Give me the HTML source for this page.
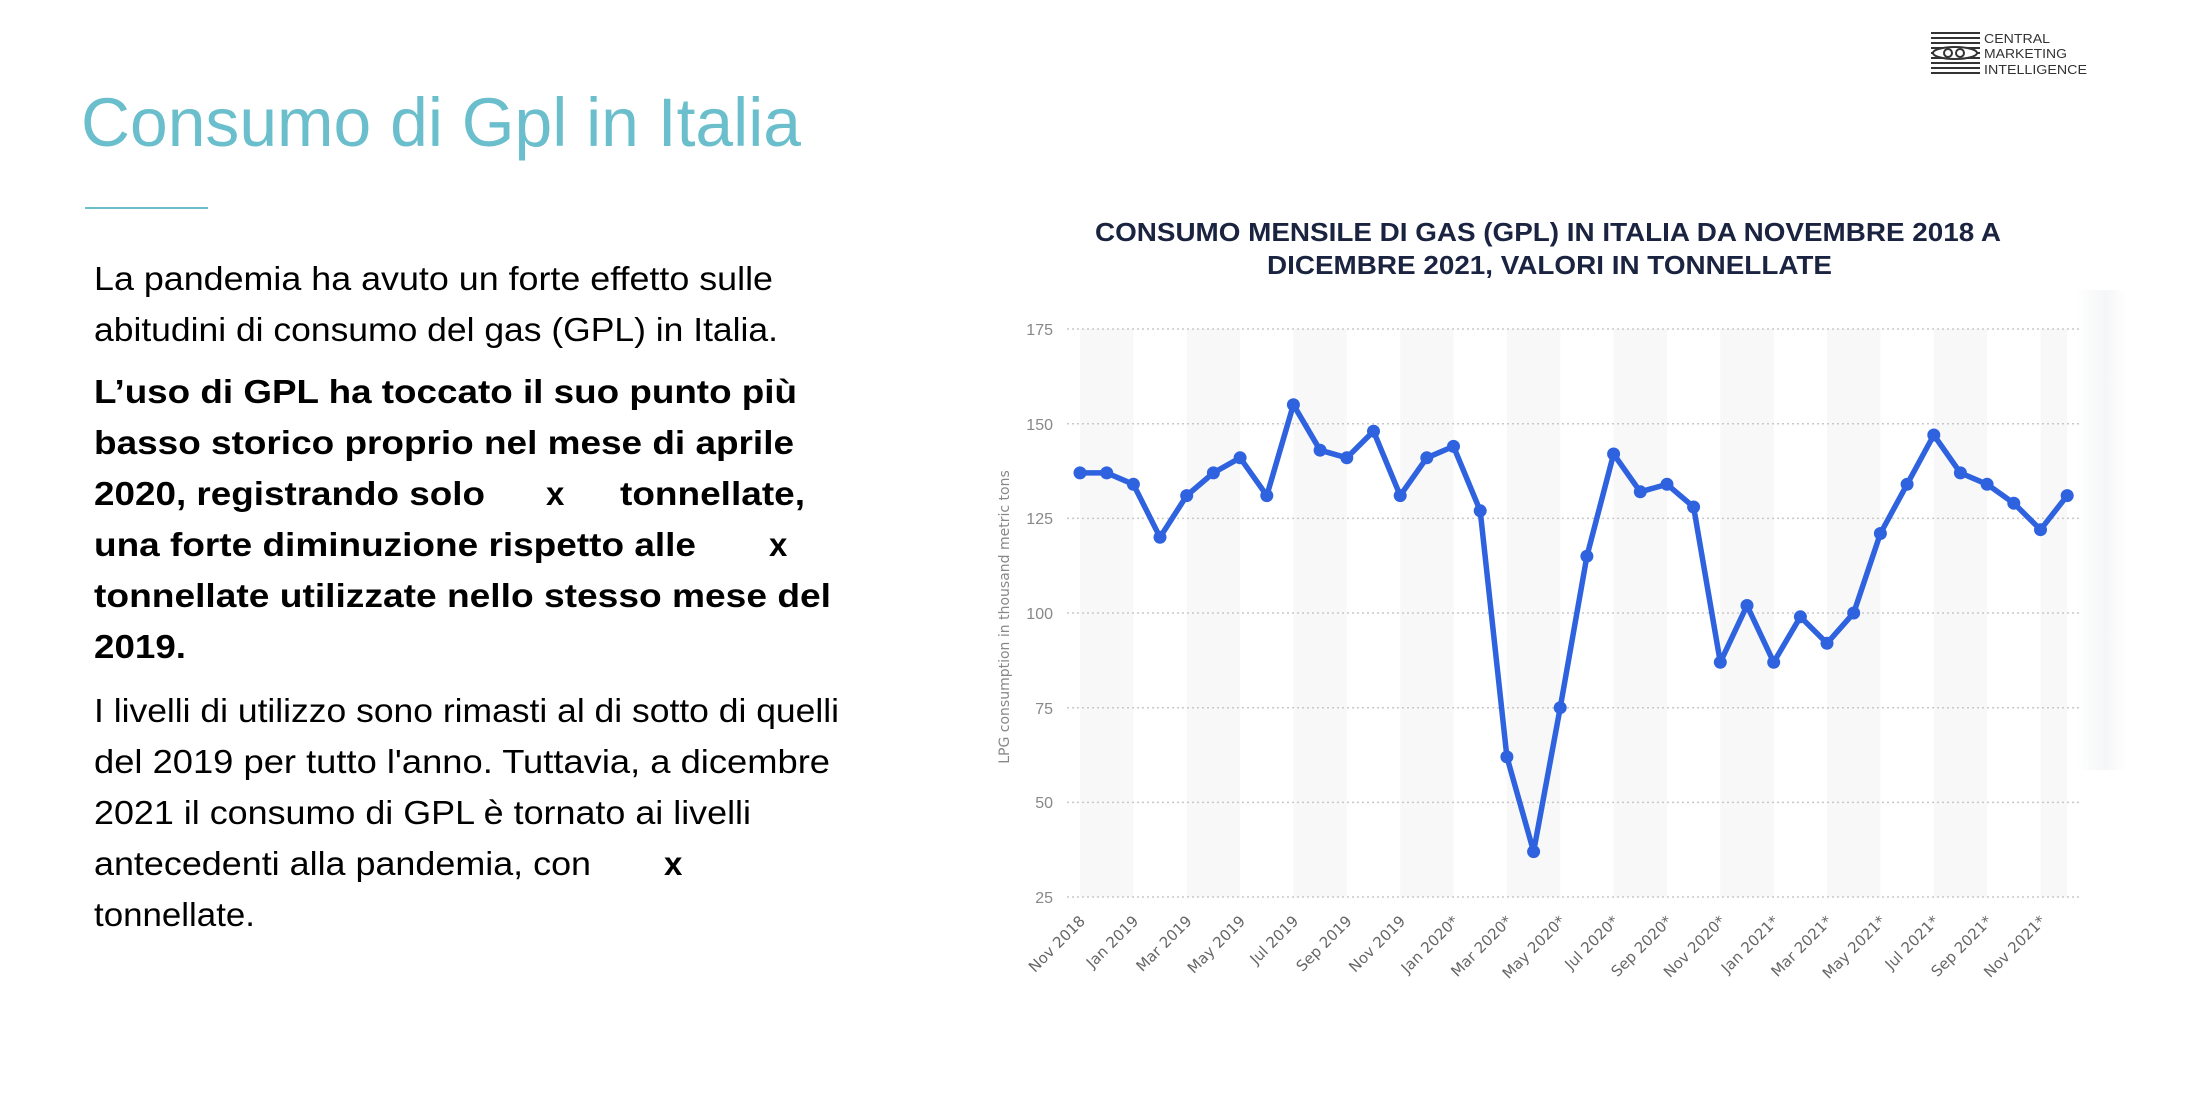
<!DOCTYPE html>
<html><head><meta charset="utf-8"><style>
html,body{margin:0;padding:0;background:#fff;}
svg{display:block;}
.p{font-family:"Liberation Sans",sans-serif;font-size:33px;fill:#000;}
.b{font-weight:bold;}
.yl{font-family:"Liberation Sans",sans-serif;font-size:16px;fill:#888;text-anchor:end;}
.xl{font-family:"DejaVu Sans","Liberation Sans",sans-serif;font-size:15px;fill:#666;text-anchor:end;}
</style></head><body>
<svg width="2198" height="1118" viewBox="0 0 2198 1118" xmlns="http://www.w3.org/2000/svg">
<defs>
<marker id="dot" markerUnits="userSpaceOnUse" markerWidth="16" markerHeight="16" refX="8" refY="8"><circle cx="8" cy="8" r="6.5" fill="#2e62de"/></marker>
<linearGradient id="sh" x1="0" x2="1"><stop offset="0" stop-color="#f5f6f8" stop-opacity="0"/><stop offset="0.6" stop-color="#f5f6f8"/><stop offset="1" stop-color="#fff"/></linearGradient>
</defs>
<g stroke="#333" stroke-width="2">
<line x1="1931" y1="33" x2="1980" y2="33"/><line x1="1931" y1="38" x2="1980" y2="38"/><line x1="1931" y1="43" x2="1980" y2="43"/>
<line x1="1931" y1="48" x2="1980" y2="48"/><line x1="1931" y1="53" x2="1980" y2="53"/><line x1="1931" y1="58" x2="1980" y2="58"/>
<line x1="1931" y1="63" x2="1980" y2="63"/><line x1="1931" y1="68" x2="1980" y2="68"/><line x1="1931" y1="73" x2="1980" y2="73"/>
</g>
<ellipse cx="1955" cy="53" rx="22" ry="6" fill="#fff" stroke="#333" stroke-width="2"/>
<circle cx="1948" cy="53" r="4" fill="#fff" stroke="#333" stroke-width="2"/><circle cx="1960" cy="53" r="4" fill="#fff" stroke="#333" stroke-width="2"/>
<g font-family="Liberation Sans,sans-serif" font-size="13" fill="#333">
<text x="1984" y="43" textLength="66" lengthAdjust="spacingAndGlyphs">CENTRAL</text>
<text x="1984" y="58" textLength="83" lengthAdjust="spacingAndGlyphs">MARKETING</text>
<text x="1984" y="74" textLength="103" lengthAdjust="spacingAndGlyphs">INTELLIGENCE</text>
</g>
<text x="81" y="146" font-family="Liberation Sans,sans-serif" font-size="69" fill="#6bbfcc" textLength="720" lengthAdjust="spacingAndGlyphs">Consumo di Gpl in Italia</text>
<line x1="85" y1="208" x2="208" y2="208" stroke="#6bbfcc" stroke-width="2"/>
<text class="p" x="94" y="290" textLength="679" lengthAdjust="spacingAndGlyphs">La pandemia ha avuto un forte effetto sulle</text>
<text class="p" x="94" y="341" textLength="684" lengthAdjust="spacingAndGlyphs">abitudini di consumo del gas (GPL) in Italia.</text>
<text class="p b" x="94" y="403" textLength="703" lengthAdjust="spacingAndGlyphs">L’uso di GPL ha toccato il suo punto più</text>
<text class="p b" x="94" y="454" textLength="700" lengthAdjust="spacingAndGlyphs">basso storico proprio nel mese di aprile</text>
<text class="p b" x="94" y="505" textLength="391" lengthAdjust="spacingAndGlyphs">2020, registrando solo</text>
<text class="p b" x="546" y="505">x</text>
<text class="p b" x="620" y="505" textLength="185" lengthAdjust="spacingAndGlyphs">tonnellate,</text>
<text class="p b" x="94" y="556" textLength="602" lengthAdjust="spacingAndGlyphs">una forte diminuzione rispetto alle</text>
<text class="p b" x="769" y="556">x</text>
<text class="p b" x="94" y="607" textLength="737" lengthAdjust="spacingAndGlyphs">tonnellate utilizzate nello stesso mese del</text>
<text class="p b" x="94" y="658" textLength="92" lengthAdjust="spacingAndGlyphs">2019.</text>
<text class="p" x="94" y="722" textLength="745" lengthAdjust="spacingAndGlyphs">I livelli di utilizzo sono rimasti al di sotto di quelli</text>
<text class="p" x="94" y="773" textLength="736" lengthAdjust="spacingAndGlyphs">del 2019 per tutto l'anno. Tuttavia, a dicembre</text>
<text class="p" x="94" y="824" textLength="657" lengthAdjust="spacingAndGlyphs">2021 il consumo di GPL è tornato ai livelli</text>
<text class="p" x="94" y="875" textLength="497" lengthAdjust="spacingAndGlyphs">antecedenti alla pandemia, con</text>
<text class="p b" x="664" y="875">x</text>
<text class="p" x="94" y="926" textLength="161" lengthAdjust="spacingAndGlyphs">tonnellate.</text>
<g font-family="Liberation Sans,sans-serif" font-weight="bold" font-size="26" fill="#1a2340">
<text x="1095" y="241" textLength="906" lengthAdjust="spacingAndGlyphs">CONSUMO MENSILE DI GAS (GPL) IN ITALIA DA NOVEMBRE 2018 A</text>
<text x="1267" y="274" textLength="565" lengthAdjust="spacingAndGlyphs">DICEMBRE 2021, VALORI IN TONNELLATE</text>
</g>
<rect x="2076" y="290" width="50" height="480" fill="url(#sh)"/>
<g fill="#f8f8f8">
<rect x="1080" y="329" width="53.4" height="568"/><rect x="1186.7" y="329" width="53.4" height="568"/>
<rect x="1293.4" y="329" width="53.4" height="568"/><rect x="1400.2" y="329" width="53.4" height="568"/>
<rect x="1506.9" y="329" width="53.4" height="568"/><rect x="1613.6" y="329" width="53.4" height="568"/>
<rect x="1720.3" y="329" width="53.4" height="568"/><rect x="1827" y="329" width="53.4" height="568"/>
<rect x="1933.8" y="329" width="53.4" height="568"/><rect x="2040.5" y="329" width="26.7" height="568"/>
</g>
<g stroke="#c8c8c8" stroke-width="1.5" stroke-dasharray="2,3">
<line x1="1067" y1="329" x2="2080" y2="329"/><line x1="1067" y1="423.7" x2="2080" y2="423.7"/>
<line x1="1067" y1="518.4" x2="2080" y2="518.4"/><line x1="1067" y1="613" x2="2080" y2="613"/>
<line x1="1067" y1="707.7" x2="2080" y2="707.7"/><line x1="1067" y1="802.4" x2="2080" y2="802.4"/>
<line x1="1067" y1="897" x2="2080" y2="897"/>
</g>
<g class="yl">
<text x="1053" y="335">175</text><text x="1053" y="430">150</text><text x="1053" y="524">125</text>
<text x="1053" y="619">100</text><text x="1053" y="714">75</text><text x="1053" y="808">50</text><text x="1053" y="903">25</text>
</g>
<text transform="translate(1009,617) rotate(-90)" text-anchor="middle" font-family="DejaVu Sans,sans-serif" font-size="14" fill="#888">LPG consumption in thousand metric tons</text>
<polyline fill="none" stroke="#2e62de" stroke-width="5.5" stroke-linejoin="round" marker-start="url(#dot)" marker-mid="url(#dot)" marker-end="url(#dot)"
points="1080,472.9 1106.7,472.9 1133.4,484.3 1160,537.3 1186.7,495.6 1213.4,472.9 1240.1,457.8 1266.8,495.6 1293.4,404.7 1320.1,450.2 1346.8,457.8 1373.5,431.2 1400.2,495.6 1426.8,457.8 1453.5,446.4 1480.2,510.8 1506.9,756.9 1533.6,851.6 1560.2,707.7 1586.9,556.2 1613.6,454 1640.3,491.8 1667,484.3 1693.6,507 1720.3,662.3 1747,605.5 1773.7,662.3 1800.4,616.8 1827,643.3 1853.7,613 1880.4,533.5 1907.1,484.3 1933.8,435 1960.4,472.9 1987.1,484.3 2013.8,503.2 2040.5,529.7 2067.2,495.6"/>
<g class="xl">
<text transform="translate(1086,922) rotate(-45)">Nov 2018</text>
<text transform="translate(1139.4,922) rotate(-45)">Jan 2019</text>
<text transform="translate(1192.7,922) rotate(-45)">Mar 2019</text>
<text transform="translate(1246.1,922) rotate(-45)">May 2019</text>
<text transform="translate(1299.4,922) rotate(-45)">Jul 2019</text>
<text transform="translate(1352.8,922) rotate(-45)">Sep 2019</text>
<text transform="translate(1406.2,922) rotate(-45)">Nov 2019</text>
<text transform="translate(1459.5,922) rotate(-45)">Jan 2020*</text>
<text transform="translate(1512.9,922) rotate(-45)">Mar 2020*</text>
<text transform="translate(1566.2,922) rotate(-45)">May 2020*</text>
<text transform="translate(1619.6,922) rotate(-45)">Jul 2020*</text>
<text transform="translate(1673,922) rotate(-45)">Sep 2020*</text>
<text transform="translate(1726.3,922) rotate(-45)">Nov 2020*</text>
<text transform="translate(1779.7,922) rotate(-45)">Jan 2021*</text>
<text transform="translate(1833,922) rotate(-45)">Mar 2021*</text>
<text transform="translate(1886.4,922) rotate(-45)">May 2021*</text>
<text transform="translate(1939.8,922) rotate(-45)">Jul 2021*</text>
<text transform="translate(1993.1,922) rotate(-45)">Sep 2021*</text>
<text transform="translate(2046.5,922) rotate(-45)">Nov 2021*</text>
</g>
</svg>
</body></html>
